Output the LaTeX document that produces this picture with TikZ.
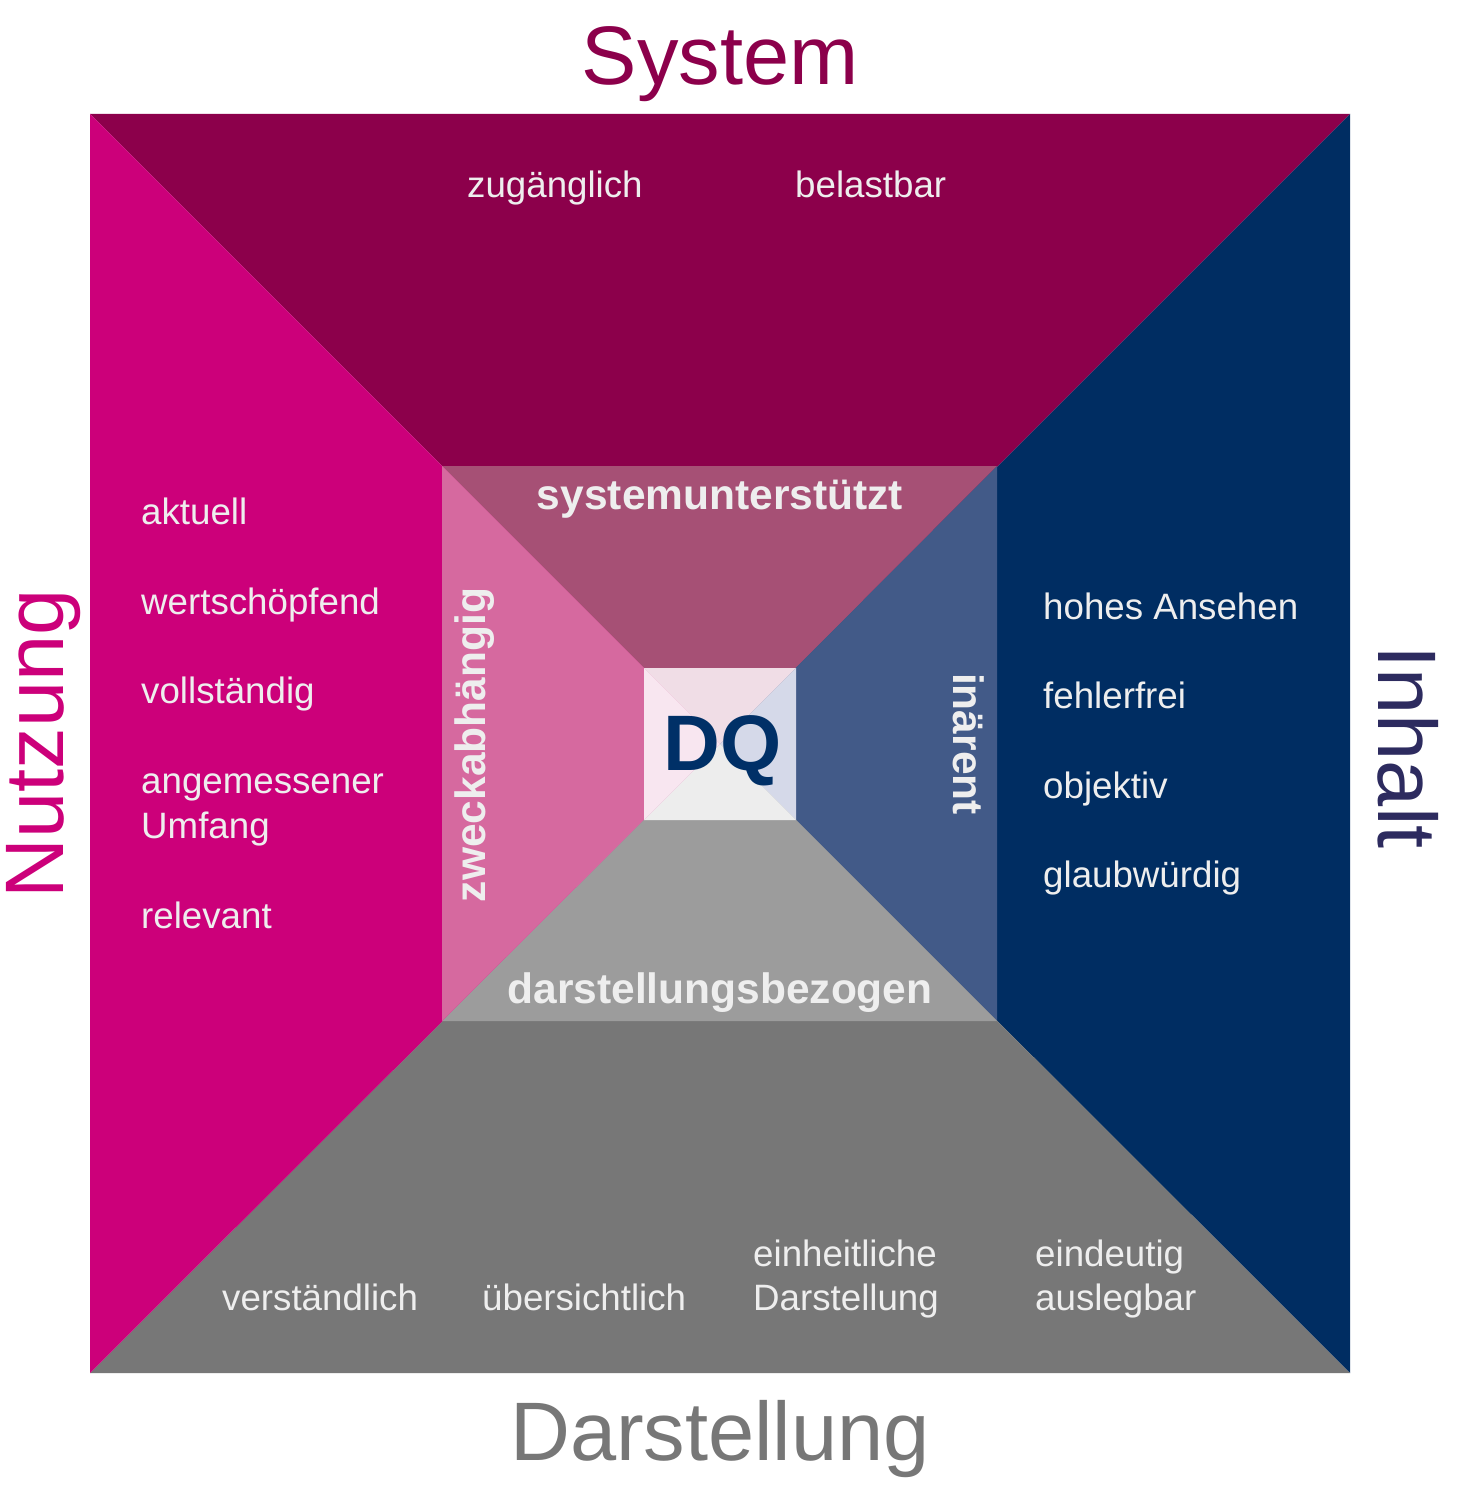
\documentclass[tikz,border=0pt]{standalone}
\usepackage{fontspec}
\setmainfont{Liberation Sans}
\definecolor{otop}{HTML}{8C004B}
\definecolor{oleft}{HTML}{CC007A}
\definecolor{oright}{HTML}{002D62}
\definecolor{obot}{HTML}{777777}
\definecolor{itop}{HTML}{A65075}
\definecolor{ileft}{HTML}{D6699F}
\definecolor{iright}{HTML}{425A88}
\definecolor{ibot}{HTML}{9C9C9C}
\definecolor{ctop}{HTML}{F0DDE6}
\definecolor{cleft}{HTML}{F8E6F0}
\definecolor{cright}{HTML}{D5D9E9}
\definecolor{cbot}{HTML}{EDEDED}
\definecolor{inhaltc}{HTML}{2D2B5F}
\definecolor{dqc}{HTML}{003067}
\definecolor{lbl}{HTML}{EEEEEE}
\tikzset{
  lab/.style={inner sep=0pt, text=lbl, font=\fontsize{36.7}{45}\selectfont, align=left},
  blab/.style={inner sep=0pt, text=lbl, font=\fontsize{42.5}{50}\selectfont\bfseries},
  big/.style={inner sep=0pt, font=\fontsize{83}{90}\selectfont},
}
\begin{document}
\begin{tikzpicture}[x=1pt,y=-1pt]
\useasboundingbox (0,0) rectangle (1462,1485);
\fill[white] (0,0) rectangle (1462,1485);
% centre point
\coordinate (C) at (720,744);
% outer ring
\coordinate (o1) at (90,114);
\coordinate (o2) at (1350,114);
\coordinate (o3) at (1350,1373);
\coordinate (o4) at (90,1373);
\fill[otop] (o1) -- (o2) -- (C) -- cycle;
\fill[oright] (o2) -- (o3) -- (C) -- cycle;
\fill[obot] (o3) -- (o4) -- (C) -- cycle;
\fill[oleft] (o4) -- (o1) -- (C) -- cycle;
% inner ring
\coordinate (i1) at (442,466);
\coordinate (i2) at (997,466);
\coordinate (i3) at (997,1021);
\coordinate (i4) at (442,1021);
\fill[itop] (i1) -- (i2) -- (C) -- cycle;
\fill[iright] (i2) -- (i3) -- (C) -- cycle;
\fill[ibot] (i3) -- (i4) -- (C) -- cycle;
\fill[ileft] (i4) -- (i1) -- (C) -- cycle;
% centre square
\coordinate (c1) at (644,668);
\coordinate (c2) at (796,668);
\coordinate (c3) at (796,820);
\coordinate (c4) at (644,820);
\fill[ctop] (c1) -- (c2) -- (C) -- cycle;
\fill[cright] (c2) -- (c3) -- (C) -- cycle;
\fill[cbot] (c3) -- (c4) -- (C) -- cycle;
\fill[cleft] (c4) -- (c1) -- (C) -- cycle;
% titles
\node[big, text=otop, anchor=base] (tsys) at (720,85) {System};
\node[big, text=obot, anchor=base] (tdar) at (720,1460) {Darstellung};
\node[big, text=oleft, anchor=base, rotate=90] (tnut) at (63,744) {Nutzung};
\node[big, text=inhaltc, anchor=base, rotate=-90] (tinh) at (1378,747) {Inhalt};
% DQ
\node[inner sep=0pt, text=dqc, font=\fontsize{78.7}{80}\selectfont\bfseries, anchor=base] (dq) at (723,770) {DQ};
% inner bold labels
\node[blab, anchor=base] (sysu) at (720,509) {systemunterstützt};
\node[blab, anchor=base] (darb) at (720,1003) {darstellungsbezogen};
\node[blab, anchor=base, rotate=90] (zweck) at (485,745) {zweckabhängig};
\node[blab, anchor=base, rotate=-90] (inae) at (953,744) {inärent};
% top labels
\node[lab, anchor=base west] (zug) at (467,197) {zugänglich};
\node[lab, anchor=base west] (bel) at (795,197) {belastbar};
% left labels
\node[lab, anchor=base west] (akt) at (141,524) {aktuell};
\node[lab, anchor=base west] (wert) at (141,614) {wertschöpfend};
\node[lab, anchor=base west] (voll) at (141,703) {vollständig};
\node[lab, anchor=base west] (ange) at (141,793) {angemessener};
\node[lab, anchor=base west] (umf) at (141,838) {Umfang};
\node[lab, anchor=base west] (rel) at (141,928) {relevant};
% right labels
\node[lab, anchor=base west] (hoh) at (1043,619) {hohes Ansehen};
\node[lab, anchor=base west] (feh) at (1043,708) {fehlerfrei};
\node[lab, anchor=base west] (obj) at (1043,798) {objektiv};
\node[lab, anchor=base west] (gla) at (1043,887) {glaubwürdig};
% bottom labels
\node[lab, anchor=base west] (verst) at (222,1310) {verständlich};
\node[lab, anchor=base west] (ueber) at (482,1310) {übersichtlich};
\node[lab, anchor=base west] (einh1) at (753,1266) {einheitliche};
\node[lab, anchor=base west] (einh2) at (753,1310) {Darstellung};
\node[lab, anchor=base west] (eind1) at (1035,1266) {eindeutig};
\node[lab, anchor=base west] (eind2) at (1035,1310) {auslegbar};
\end{tikzpicture}
\end{document}
